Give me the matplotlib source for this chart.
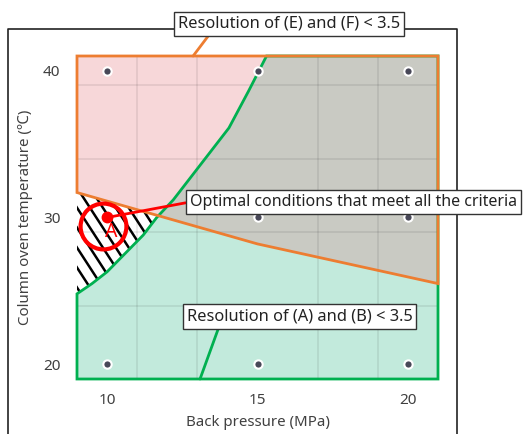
import numpy as np
import matplotlib.pyplot as plt
from matplotlib.patches import Polygon

plt.rcParams['font.family'] = ['Noto Sans', 'Noto Sans CJK JP', 'DejaVu Sans']

# axis ticks / ranges
bp_ticks = [10, 15, 20]
temp_ticks = [20, 30, 40]
bp_range = [9, 21]
temp_range = [19, 41]

# tested conditions (grid of runs)
test_bp = [10, 15, 20, 10, 15, 20, 10, 15, 20]
test_temp = [40, 40, 40, 30, 30, 30, 20, 20, 20]

# resolution limit of (E) and (F) = 3.5 (orange)
ef_bp = [9, 15, 21]
ef_temp = [31.7, 28.2, 25.5]

# resolution limit of (A) and (B) = 3.5 (green)
ab_bp = [9.0, 9.5, 10.0, 11.2, 11.65, 12.2, 14.05, 14.7, 15.3]
ab_temp = [24.8, 25.5, 26.3, 28.8, 30.0, 31.2, 36.1, 38.6, 41.0]

optimum_bp = 10
optimum_temp = 30

ORANGE = '#ED7D31'
GREEN = '#00B050'

fig = plt.figure(figsize=(5.24, 4.34), dpi=100)
ax = fig.add_axes([77 / 524, 55 / 434, 361 / 524, 323 / 434])
ax.set_xlim(bp_range)
ax.set_ylim(temp_range)

# outer frame
fig.add_artist(plt.Line2D([8 / 524, 8 / 524, 457 / 524, 457 / 524],
                          [-0.1, 1 - 29 / 434, 1 - 29 / 434, -0.1],
                          color='#222222', lw=1.2, zorder=-1))

# hatched background (area meeting every criterion)
slope = 3.16
for c in np.arange(bp_range[0] - 8, bp_range[1], 0.43):
    ax.plot([c, c + 22 / slope], [temp_range[1], temp_range[0]], color='black', lw=1.8, zorder=0.5)

ef_poly = [(bp_range[0], temp_range[1]), (bp_range[1], temp_range[1])] + list(zip(ef_bp, ef_temp))[::-1]
ab_poly = [(bp_range[0], temp_range[0])] + list(zip(ab_bp, ab_temp)) + \
          [(bp_range[1], temp_range[1]), (bp_range[1], temp_range[0])]

green_fill = Polygon(ab_poly, closed=True, facecolor='#c2eadc', edgecolor='none', zorder=1, clip_on=False)
pink_fill = Polygon(ef_poly, closed=True, facecolor='#f7d7d9', edgecolor='none', zorder=1.1, clip_on=False)
ax.add_patch(green_fill)
ax.add_patch(pink_fill)
overlap = Polygon(ab_poly, closed=True, facecolor='#c9cac3', edgecolor='none', zorder=1.2)
ax.add_patch(overlap)
overlap.set_clip_path(pink_fill)

ax.add_patch(Polygon(ab_poly, closed=True, fill=False, edgecolor=GREEN, lw=2, zorder=3, clip_on=False))
ax.add_patch(Polygon(ef_poly, closed=True, fill=False, edgecolor=ORANGE, lw=2, zorder=3.1, clip_on=False))

# grid
ax.set_xticks(bp_ticks)
ax.set_yticks(temp_ticks)
ax.set_xticks([11, 13, 15, 17, 19], minor=True)
ax.set_yticks([24, 29, 34, 39], minor=True)
ax.grid(which='minor', color='black', alpha=0.08, lw=1.3)
ax.tick_params(which='both', length=0)
ax.tick_params(axis='x', pad=10, labelsize=11, labelcolor='#404040')
ax.tick_params(axis='y', pad=12, labelsize=11, labelcolor='#404040')
for s in ax.spines.values():
    s.set_visible(False)

ax.plot(test_bp, test_temp, 'o', ms=6, mfc='#484858', mec='white', mew=1.5, zorder=4, clip_on=False)

# optimum marker
ax.plot(optimum_bp - 0.14, optimum_temp - 0.61, 'o', ms=33, mfc='none', mec='red', mew=3, zorder=5)
ax.plot(optimum_bp, optimum_temp, 'o', ms=7.5, color='red', zorder=5)
ax.text(optimum_bp + 0.15, optimum_temp - 1.0, 'A', color='red', fontsize=14, ha='center', va='center', zorder=5)

box = dict(boxstyle='square,pad=0.25', fc='white', ec='#333333', lw=1)
ax.annotate('Optimal conditions that meet all the criteria', xy=(optimum_bp, optimum_temp),
            xytext=(353.5, 232), textcoords='figure pixels', ha='center', va='center',
            fontsize=11.5, color='#222222', bbox=box, annotation_clip=False, zorder=6,
            arrowprops=dict(arrowstyle='-', color='red', lw=2, relpos=(0, 0.5), shrinkA=0, shrinkB=0))
ax.annotate('Resolution of (E) and (F) < 3.5', xy=(12.86, temp_range[1]),
            xytext=(289, 410), textcoords='figure pixels', ha='center', va='center',
            fontsize=11.8, color='#222222', bbox=box, annotation_clip=False, zorder=6,
            arrowprops=dict(arrowstyle='-', color=ORANGE, lw=2, relpos=(0.15, 0), shrinkA=0, shrinkB=0))
ax.annotate('Resolution of (A) and (B) < 3.5', xy=(13.09, temp_range[0]),
            xytext=(299.5, 117.5), textcoords='figure pixels', ha='center', va='center',
            fontsize=11.8, color='#222222', bbox=box, annotation_clip=False, zorder=6,
            arrowprops=dict(arrowstyle='-', color=GREEN, lw=2, relpos=(0.147, 0), shrinkA=0, shrinkB=0))

ax.set_xlabel('Back pressure (MPa)', fontsize=10.8, color='#404040', labelpad=5)
ax.set_ylabel('Column oven temperature (℃)', fontsize=10.8, color='#404040', labelpad=7)

fig.savefig('out.png', dpi=100)
